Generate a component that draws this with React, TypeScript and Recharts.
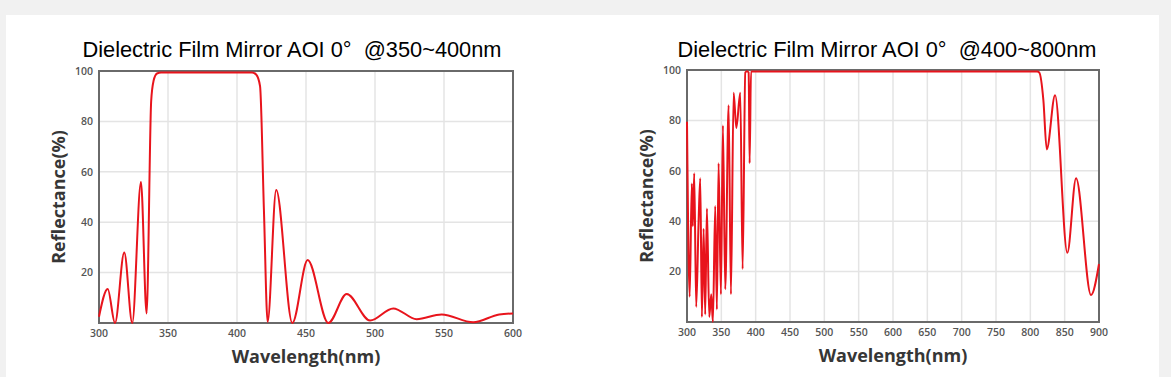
import React from 'react';
import { LineChart, Line, XAxis, YAxis, CartesianGrid, ReferenceArea, Label } from 'recharts';

// left spectrum (@350~400nm)
const leftWavelength = [
  300, 306.3, 311.6, 318.3, 324.1, 330.4, 334.5, 337.8, 339.5, 342, 345,
  411, 414, 416.7, 419.5, 422.2, 428.4, 440.1, 451.2, 466.2, 479.5, 496.4,
  513.2, 530.2, 548.3, 571.2, 590, 600,
];
const leftReflectance = [
  2.5, 13.5, 0, 28, 0, 56, 3.8, 88, 96, 99, 99.4,
  99.4, 98.5, 94, 45, 0.5, 52.8, 0, 25, 0, 11.5, 1,
  5.8, 1.5, 3.4, 0.3, 3.4, 3.8,
];

// right spectrum (@400~800nm)
const rightWavelength = [
  300, 303.9, 307, 308.5, 310.5, 313.4, 316.8, 319.3, 321.7, 324.2, 326.5, 329,
  332.4, 335.3, 337.7, 341.1, 343.5, 346, 349.4, 352.3, 355.7, 360.6, 364,
  367.9, 371.8, 377.6, 381, 384.9, 387.3, 389.8, 391.2, 393.2, 395,
  810, 813, 819, 823.9, 836, 853.9, 866.6, 888.4, 900,
];
const rightReflectance = [
  79.5, 10, 55, 38, 59, 6, 39, 57, 2, 37, 3, 45,
  2, 11, 0, 46, 5, 63, 11, 78, 13, 86, 11,
  91, 77, 91, 21, 99, 99.5, 99, 63, 99.4, 99.4,
  99.4, 99, 88, 68.5, 90, 27.5, 57, 10.7, 23,
];

const yTicks = [20, 40, 60, 80, 100];
const leftXTicks = [300, 350, 400, 450, 500, 550, 600];
const rightXTicks = [300, 350, 400, 450, 500, 550, 600, 650, 700, 750, 800, 850, 900];

const leftTitle = 'Dielectric Film Mirror AOI 0°  @350~400nm';
const rightTitle = 'Dielectric Film Mirror AOI 0°  @400~800nm';

const toRows = (xs: number[], ys: number[]) => xs.map((w, i) => ({ w, r: ys[i] }));

const tickStyle = { fontSize: 10.5, fontWeight: 600, fill: '#555', fontFamily: 'Open Sans' };
const labelStyle = { fontSize: 18, fontWeight: 700, fill: '#363636', fontFamily: 'Open Sans', textAnchor: 'middle' as const };

function Spectrum({ rows, xTicks, xMax, width, marginLeft, marginRight, marginTop, marginBottom }: any) {
  return (
    <LineChart
      width={width}
      height={377}
      data={rows}
      margin={{ top: marginTop, right: marginRight, bottom: marginBottom, left: marginLeft }}
    >
      <CartesianGrid stroke="#e4e4e4" strokeWidth={1.5} />
      <XAxis
        dataKey="w"
        type="number"
        domain={[300, xMax]}
        ticks={xTicks}
        height={44}
        axisLine={false}
        tickLine={false}
        tickSize={0}
        tickMargin={7}
        tick={tickStyle}
      >
        <Label value="Wavelength(nm)" position="insideBottom" offset={4} style={labelStyle} />
      </XAxis>
      <YAxis
        type="number"
        domain={[0, 100]}
        ticks={yTicks}
        width={40}
        axisLine={false}
        tickLine={false}
        tickSize={0}
        tickMargin={6}
        tick={tickStyle}
      >
        <Label value="Reflectance(%)" angle={-90} position="insideLeft" offset={0} style={labelStyle} />
      </YAxis>
      <ReferenceArea x1={300} x2={xMax} y1={0} y2={100} fill="none" stroke="#6a6a6a" strokeWidth={2} />
      <Line
        type="monotone"
        dataKey="r"
        stroke="#e8141c"
        strokeWidth={2}
        dot={false}
        isAnimationActive={false}
      />
    </LineChart>
  );
}

const titleStyle: React.CSSProperties = {
  position: 'absolute',
  top: 39,
  width: 500,
  textAlign: 'center',
  fontFamily: '"Liberation Sans", Arial, sans-serif',
  fontSize: 21.8,
  lineHeight: '21px',
  color: '#000',
  whiteSpace: 'pre',
};

export default function App() {
  return (
    <div style={{ position: 'fixed', left: 0, top: 0, width: 1171, height: 377, background: '#f1f1f1', overflow: 'hidden' }}>
      <div style={{ position: 'absolute', left: 6, top: 15, width: 1153, height: 362, background: '#fff' }} />
      <div style={{ ...titleStyle, left: 292 - 250 }}>{leftTitle}</div>
      <div style={{ ...titleStyle, left: 887 - 250 }}>{rightTitle}</div>
      <div style={{ position: 'absolute', left: 0, top: 0 }}>
        <Spectrum
          rows={toRows(leftWavelength, leftReflectance)}
          xTicks={leftXTicks}
          xMax={600}
          width={590}
          marginLeft={59}
          marginRight={77}
          marginTop={71}
          marginBottom={10}
        />
      </div>
      <div style={{ position: 'absolute', left: 590, top: 0 }}>
        <Spectrum
          rows={toRows(rightWavelength, rightReflectance)}
          xTicks={rightXTicks}
          xMax={900}
          width={581}
          marginLeft={57}
          marginRight={72}
          marginTop={70}
          marginBottom={11}
        />
      </div>
    </div>
  );
}
